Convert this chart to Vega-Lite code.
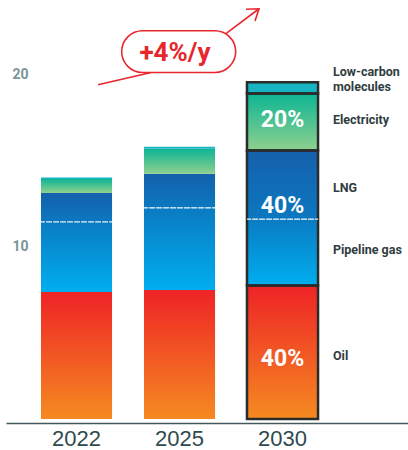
{
  "$schema": "https://vega.github.io/schema/vega-lite/v6.json",
  "width": 402,
  "height": 413,
  "autosize": {"type": "none"},
  "padding": {"left": 6, "top": 6, "right": 0, "bottom": 31},
  "background": "white",
  "config": {
    "view": {"stroke": null},
    "axisY": {"ticks": false, "domain": false, "grid": false, "labelFont": "Roboto", "labelFontWeight": "bold", "labelFontSize": 14, "labelColor": "#7A959A", "labelAlign": "left", "labelPadding": -6, "labelBaseline": "middle"},
    "axisX": {"ticks": false, "grid": false, "labelFont": "Liberation Sans", "labelFontSize": 22, "labelColor": "#2F4A50", "labelPadding": 5, "labelAngle": 0, "domainColor": "#435A5E", "domainWidth": 1.6, "offset": 4}
  },
  "datasets": {
    "energy": [
      {"year": "2022", "category": "Oil", "group": "Oil", "order": 1, "value": 7.38},
      {"year": "2022", "category": "Pipeline gas", "group": "Gas", "order": 2, "value": 4.07},
      {"year": "2022", "category": "LNG", "group": "Gas", "order": 3, "value": 1.69},
      {"year": "2022", "category": "Electricity", "group": "Electricity", "order": 4, "value": 0.81},
      {"year": "2022", "category": "Low-carbon molecules", "group": "Low-carbon", "order": 5, "value": 0.08},
      {"year": "2025", "category": "Oil", "group": "Oil", "order": 1, "value": 7.5},
      {"year": "2025", "category": "Pipeline gas", "group": "Gas", "order": 2, "value": 4.77},
      {"year": "2025", "category": "LNG", "group": "Gas", "order": 3, "value": 1.98},
      {"year": "2025", "category": "Electricity", "group": "Electricity", "order": 4, "value": 1.45},
      {"year": "2025", "category": "Low-carbon molecules", "group": "Low-carbon", "order": 5, "value": 0.12},
      {"year": "2030", "category": "Oil", "group": "Oil", "order": 1, "value": 7.76},
      {"year": "2030", "category": "Pipeline gas", "group": "Gas", "order": 2, "value": 3.85},
      {"year": "2030", "category": "LNG", "group": "Gas", "order": 3, "value": 4.0},
      {"year": "2030", "category": "Electricity", "group": "Electricity", "order": 4, "value": 3.31},
      {"year": "2030", "category": "Low-carbon molecules", "group": "Low-carbon", "order": 5, "value": 0.65}
    ],
    "arrow": [
      {"k": 1, "i": 0.209, "v": 19.42},
      {"k": 2, "i": 0.714, "v": 20.12},
      {"k": 3, "i": 1.461, "v": 22.44},
      {"k": 4, "i": 1.772, "v": 23.84}
    ],
    "pill": [{"i": 0.992, "v": 21.35}],
    "note": [{"i": 0.956, "v": 20.83, "t": "+4%/y"}],
    "legend": [
      {"i": 2.49, "v": 19.91, "t": "Low-carbon\nmolecules"},
      {"i": 2.49, "v": 17.13, "t": "Electricity"},
      {"i": 2.49, "v": 13.22, "t": "LNG"},
      {"i": 2.49, "v": 9.56, "t": "Pipeline gas"},
      {"i": 2.49, "v": 3.43, "t": "Oil"}
    ],
    "pct": [
      {"i": 2, "v": 16.94, "t": "20%"},
      {"i": 2, "v": 11.98, "t": "40%"},
      {"i": 2, "v": 3.08, "t": "40%"}
    ]
  },
  "layer": [
    {
      "data": {"name": "energy"},
      "encoding": {
        "x": {"field": "year", "type": "ordinal", "title": null, "scale": {"paddingInner": 0.31, "paddingOuter": 0.6065, "align": 0.28}},
        "y": {"field": "v0", "type": "quantitative", "title": null, "scale": {"domain": [0, 24], "nice": false}, "axis": {"values": [10, 20]}},
        "y2": {"field": "v1"}
      },
      "layer": [
        {
          "transform": [
            {"stack": "value", "groupby": ["year"], "sort": [{"field": "order", "order": "ascending"}], "as": ["v0", "v1"]},
            {"filter": "datum.category == 'Oil'"}
          ],
          "mark": {"type": "bar", "fill": {"gradient": "linear", "x1": 0, "y1": 0, "x2": 0, "y2": 1, "stops": [{"offset": 0, "color": "#EE2326"}, {"offset": 1, "color": "#F58A21"}]}}
        },
        {
          "transform": [
            {"stack": "value", "groupby": ["year"], "sort": [{"field": "order", "order": "ascending"}], "as": ["v0", "v1"]},
            {"filter": "datum.category == 'Pipeline gas'"}
          ],
          "mark": {"type": "bar", "fill": {"gradient": "linear", "x1": 0, "y1": 0, "x2": 0, "y2": 1, "stops": [{"offset": 0, "color": "#0A7BC2"}, {"offset": 1, "color": "#00AEEF"}]}}
        },
        {
          "transform": [
            {"stack": "value", "groupby": ["year"], "sort": [{"field": "order", "order": "ascending"}], "as": ["v0", "v1"]},
            {"filter": "datum.category == 'LNG'"}
          ],
          "mark": {"type": "bar", "fill": {"gradient": "linear", "x1": 0, "y1": 0, "x2": 0, "y2": 1, "stops": [{"offset": 0, "color": "#1560AC"}, {"offset": 1, "color": "#0B78C0"}]}}
        },
        {
          "transform": [
            {"stack": "value", "groupby": ["year"], "sort": [{"field": "order", "order": "ascending"}], "as": ["v0", "v1"]},
            {"filter": "datum.category == 'Electricity'"}
          ],
          "mark": {"type": "bar", "fill": {"gradient": "linear", "x1": 0, "y1": 0, "x2": 0, "y2": 1, "stops": [{"offset": 0, "color": "#0DB594"}, {"offset": 1, "color": "#8ED08E"}]}}
        },
        {
          "transform": [
            {"stack": "value", "groupby": ["year"], "sort": [{"field": "order", "order": "ascending"}], "as": ["v0", "v1"]},
            {"filter": "datum.category == 'Low-carbon molecules'"}
          ],
          "mark": {"type": "bar", "fill": "#17B4C1"}
        },
        {
          "transform": [
            {"stack": "value", "groupby": ["year"], "sort": [{"field": "order", "order": "ascending"}], "as": ["v0", "v1"]},
            {"filter": "datum.year == '2030'"},
            {"aggregate": [{"op": "min", "field": "v0", "as": "v0"}, {"op": "max", "field": "v1", "as": "v1"}], "groupby": ["year", "group"]}
          ],
          "mark": {"type": "bar", "filled": false, "stroke": "#2A2C2C", "strokeWidth": 2.5}
        },
        {
          "transform": [
            {"stack": "value", "groupby": ["year"], "sort": [{"field": "order", "order": "ascending"}], "as": ["v0", "v1"]},
            {"filter": "datum.category == 'Pipeline gas'"}
          ],
          "mark": {"type": "rect", "filled": false, "stroke": "white", "strokeWidth": 1.2, "strokeDash": [4, 3], "strokeOpacity": 0.9},
          "encoding": {
            "y": {"field": "v1", "type": "quantitative", "title": null, "scale": {"domain": [0, 24], "nice": false}, "axis": {"values": [10, 20]}},
            "y2": {"field": "v1"}
          }
        }
      ]
    },
    {
      "encoding": {
        "x": {"field": "i", "type": "quantitative", "title": null, "scale": {"domain": [-0.6845, 3.2184], "nice": false, "zero": false}, "axis": null},
        "y": {"field": "v", "type": "quantitative", "title": null, "scale": {"domain": [0, 24], "nice": false}, "axis": {"values": [10, 20]}}
      },
      "layer": [
        {
          "data": {"name": "arrow"},
          "mark": {"type": "line", "color": "#E8262D", "strokeWidth": 1.6},
          "encoding": {"order": {"field": "k", "type": "quantitative"}}
        },
        {
          "data": {"name": "arrow"},
          "transform": [{"filter": "datum.k == 4"}],
          "mark": {"type": "point", "shape": "M -0.574 0.819 L 0 0 L 0.574 0.819", "size": 676, "angle": 53, "filled": false, "stroke": "#E8262D", "strokeWidth": 1.6, "opacity": 1}
        },
        {
          "data": {"name": "pill"},
          "mark": {"type": "point", "shape": "M -0.634 -0.366 L 0.634 -0.366 A 0.366 0.366 0 0 1 0.634 0.366 L -0.634 0.366 A 0.366 0.366 0 0 1 -0.634 -0.366 Z", "size": 12996, "filled": true, "fill": "white", "stroke": "#E8262D", "strokeWidth": 1.6, "opacity": 1, "fillOpacity": 1}
        },
        {
          "data": {"name": "note"},
          "mark": {"type": "text", "font": "Roboto", "fontWeight": "bold", "fontSize": 26, "color": "#E8262D", "align": "center", "baseline": "alphabetic"},
          "encoding": {"text": {"field": "t"}}
        },
        {
          "data": {"name": "legend"},
          "mark": {"type": "text", "font": "Roboto", "fontWeight": "bold", "fontSize": 12.5, "color": "#2F3C40", "align": "left", "baseline": "alphabetic", "lineBreak": "\n", "lineHeight": 15},
          "encoding": {"text": {"field": "t"}}
        },
        {
          "data": {"name": "pct"},
          "mark": {"type": "text", "font": "Roboto", "fontWeight": "bold", "fontSize": 23, "color": "white", "align": "center", "baseline": "alphabetic"},
          "encoding": {"text": {"field": "t"}}
        }
      ]
    }
  ],
  "resolve": {"scale": {"x": "independent"}, "axis": {"x": "independent"}}
}
